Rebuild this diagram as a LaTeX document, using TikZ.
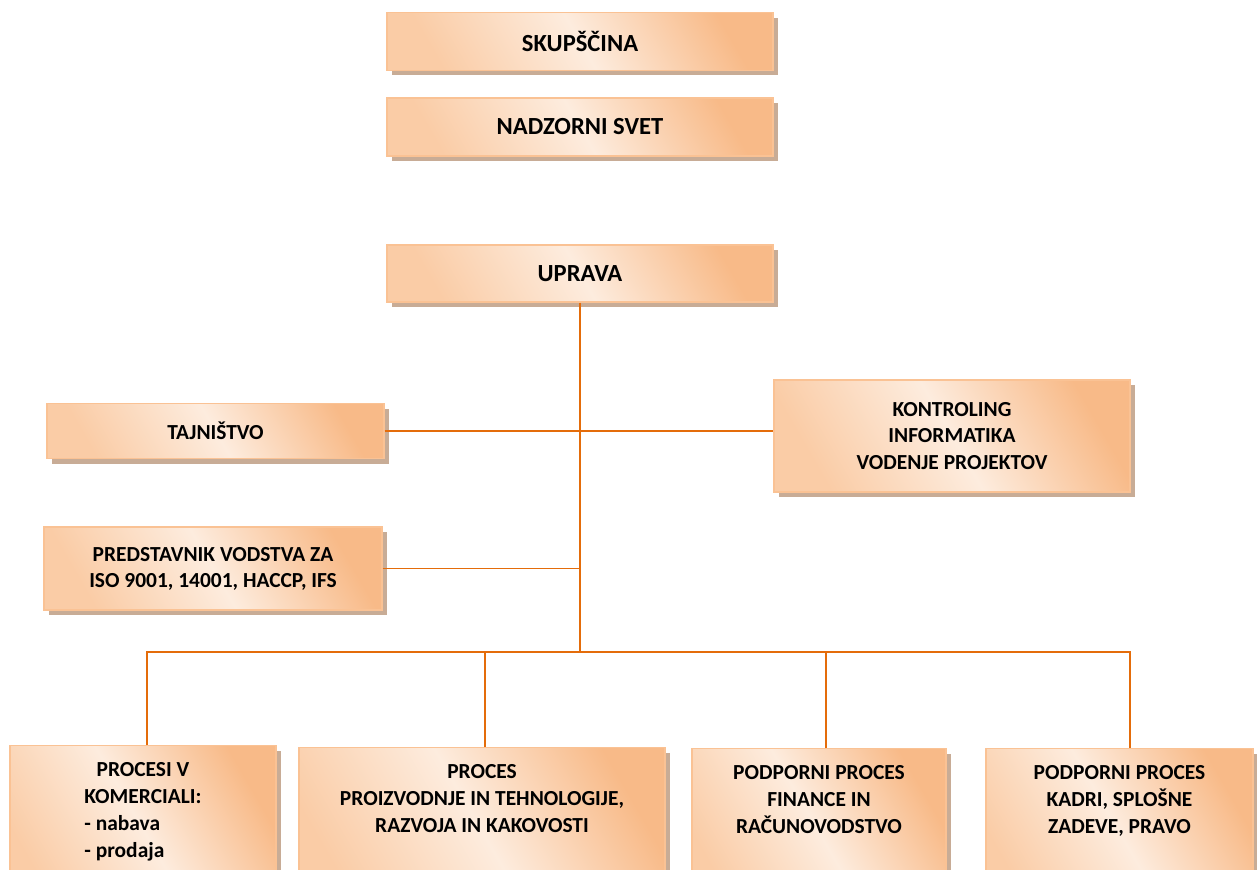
\documentclass[tikz,border=0pt]{standalone}
\usepackage{fontspec}
\setmainfont{Carlito}
\usepackage{tikz}
\usetikzlibrary{shadows,positioning}

\definecolor{boxdark}{RGB}{248,186,136}
\definecolor{boxmid}{RGB}{250,204,166}
\definecolor{boxlight}{RGB}{253,236,222}
\definecolor{boxline}{RGB}{250,194,148}
\definecolor{linkcol}{RGB}{228,108,10}
\definecolor{shadowcol}{RGB}{200,172,150}

\begin{document}
\begin{tikzpicture}[x=0.02cm,y=-0.02cm,
  box/.style={draw=boxline, line width=0.7pt,
    left color=boxmid, right color=boxdark, middle color=boxlight, shading angle=120,
    drop shadow={shadow xshift=0.1cm, shadow yshift=-0.1cm, fill=shadowcol, opacity=1},
    font=\fontsize{12.2}{14.9}\selectfont\bfseries, align=flush center, inner sep=0pt},
  topbox/.style={box, minimum width=7.72cm, font=\fontsize{14}{16}\selectfont\bfseries},
  bottombox/.style={box, anchor=north, text width=#1, text depth=2.4cm,
    inner xsep=0pt, inner ysep=0.33cm, font=\fontsize{12.2}{15.4}\selectfont\bfseries},
  link/.style={draw=linkcol, line width=1.1pt}]
\useasboundingbox (0,0) rectangle (1257,869);
\clip (0,0) rectangle (1257,869);

% Top of the organisation
\node[topbox, minimum height=1.16cm] (skup) at (580,41.5) {SKUP\v{S}\v{C}INA};
\node[topbox, minimum height=1.16cm] (nadz) at (580,127) {NADZORNI SVET};
\node[topbox, minimum height=1.14cm] (uprava) at (580,273.5) {UPRAVA};

% Staff units
\node[box, minimum width=6.74cm, minimum height=1.1cm] (tajn) at (215.5,431) {TAJNI\v{S}TVO};
\node[box, minimum width=7.12cm, minimum height=2.24cm] (kontr) at (952,436) {KONTROLING\\ INFORMATIKA\\ VODENJE PROJEKTOV};
\node[box, minimum width=6.76cm, minimum height=1.66cm] (pred) at (213,568.5) {PREDSTAVNIK VODSTVA ZA\\ ISO 9001, 14001, HACCP, IFS};

% Processes (cut by the page border)
\node[bottombox=5.32cm] (proc1) at (143,745) {PROCESI V\\ KOMERCIALI:\\
  \leavevmode\rlap{- nabava}\phantom{KOMERCIALI:}\\ \leavevmode\rlap{- prodaja}\phantom{KOMERCIALI:}};
\node[bottombox=7.32cm] (proc2) at (482,747) {PROCES\\ PROIZVODNJE IN TEHNOLOGIJE,\\ RAZVOJA IN KAKOVOSTI};
\node[bottombox=5.08cm] (proc3) at (819,748) {PODPORNI PROCES\\ FINANCE IN\\ RA\v{C}UNOVODSTVO};
\node[bottombox=5.34cm] (proc4) at (1119.5,748) {PODPORNI PROCES\\ KADRI, SPLO\v{S}NE\\ ZADEVE, PRAVO};

% Connectors
\coordinate (bus) at (580,652);
\draw[link] (uprava.south) -- (bus);
\draw[link] (tajn.east) -- (tajn.east -| kontr.west);
\draw[link] (pred.east) -- (pred.east -| uprava.south);
\draw[link] ([xshift=0.08cm]proc1.north) |- (bus) -| ([xshift=0.21cm]proc4.north);
\draw[link] ([xshift=0.06cm]proc2.north) -- ([xshift=0.06cm]proc2.north |- bus);
\draw[link] ([xshift=0.14cm]proc3.north) -- ([xshift=0.14cm]proc3.north |- bus);
\end{tikzpicture}
\end{document}
